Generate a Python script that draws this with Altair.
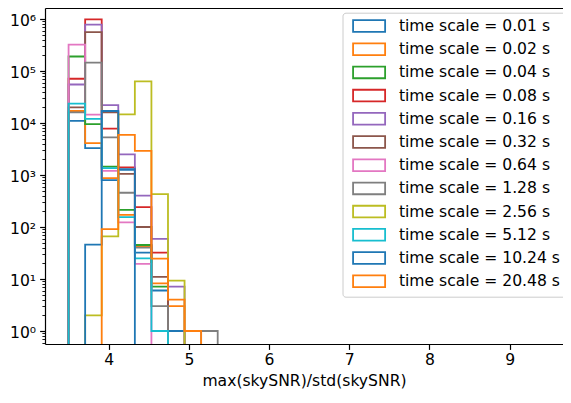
import altair as alt
import pandas as pd

series_labels = [
    "time scale = 0.01 s", "time scale = 0.02 s", "time scale = 0.04 s",
    "time scale = 0.08 s", "time scale = 0.16 s", "time scale = 0.32 s",
    "time scale = 0.64 s", "time scale = 1.28 s", "time scale = 2.56 s",
    "time scale = 5.12 s", "time scale = 10.24 s", "time scale = 20.48 s",
]
series_colors = [
    "#1f77b4", "#ff7f0e", "#2ca02c", "#d62728", "#9467bd", "#8c564b",
    "#e377c2", "#7f7f7f", "#bcbd22", "#17becf", "#1f77b4", "#ff7f0e",
]

bin_start = 3.5
bin_width = 0.2066

c_001 = [11000, 3300, 800, 1250, 32, 6, 1, 0, 0]
c_002 = [17000, 4100, 870, 171, 43, 8.2, 3, 0, 0]
c_004 = [190000, 9500, 1450, 214, 45, 7.1, 0, 0, 0]
c_008 = [71000, 980000, 7800, 1400, 240, 32, 0, 0, 0]
c_016 = [55000, 780000, 22000, 2500, 400, 59, 7.1, 0, 0]
c_032 = [20000, 560000, 16000, 1050, 100, 11, 0, 0, 0]
c_064 = [320000, 14500, 1200, 123, 19.5, 0, 0, 0, 0]
c_128 = [16000, 145000, 5300, 455, 40, 3, 0, 0, 1]
c_256 = [0, 2, 66, 14700, 63000, 427, 9.3, 0, 0]
c_512 = [23500, 12000, 1350, 155, 25, 1, 0, 0, 0]
c_1024 = [0, 46, 17000, 1300, 0, 0, 0, 0, 0]
c_2048 = [0, 0, 91, 5900, 2900, 24.6, 4, 1, 0]

all_counts = [c_001, c_002, c_004, c_008, c_016, c_032,
              c_064, c_128, c_256, c_512, c_1024, c_2048]

x_ticks = [4, 5, 6, 7, 8, 9]
y_major = [1, 10, 100, 1000, 10000, 100000, 1000000]

# build step outlines (matplotlib histtype='step')
floor = 0.01
rows = []
for si, (lab, vals) in enumerate(zip(series_labels, all_counts)):
    nz = [i for i, v in enumerate(vals) if v > 0]
    f, l = nz[0], nz[-1]
    pts = [(bin_start + f * bin_width, floor)]
    for k in range(f, l + 1):
        v = vals[k] if vals[k] > 0 else floor
        pts.append((bin_start + k * bin_width, v))
        pts.append((bin_start + (k + 1) * bin_width, v))
    pts.append((bin_start + (l + 1) * bin_width, floor))
    for oi, (x, y) in enumerate(pts):
        rows.append({"series": lab, "key": f"{si:02d}", "x": x, "y": y, "order": oi})
df = pd.DataFrame(rows)

y_minor = []
for e in range(-1, 6):
    for m in range(2, 10):
        v = m * 10 ** e
        if 0.57 < v < 1.6e6:
            y_minor.append(v)
y_values = sorted(y_major + y_minor)

is_major = "abs(log(datum.value)/LN10 - round(log(datum.value)/LN10)) < 1e-6"
sup = "['\u2070','\u00b9','\u00b2','\u00b3','\u2074','\u2075','\u2076']"
label_expr = f"{is_major} ? '10' + {sup}[round(log(datum.value)/LN10)] : ''"

xscale = alt.Scale(domain=[3.206, 9.665], nice=False, zero=False)
yscale = alt.Scale(type="log", domain=[0.562, 1.627e6], nice=False)

y_enc = alt.Y(
    "y:Q", scale=yscale,
    axis=alt.Axis(
        values=y_values, labelExpr=label_expr, title=None, labelOverlap=False,
        tickSize={"condition": {"test": is_major, "value": 5.4}, "value": 3.1},
        tickWidth={"condition": {"test": is_major, "value": 1.2}, "value": 0.9},
        labelPadding=4, labelOffset=2, labelBaseline="middle",
    ),
)

lines = alt.Chart(df).mark_line(clip=True, strokeWidth=1.8).encode(
    x=alt.X(
        "x:Q", scale=xscale,
        axis=alt.Axis(values=x_ticks, title="max(skySNR)/std(skySNR)", tickSize=5.4,
                      labelPadding=3, titleY=41, titleBaseline="alphabetic"),
    ),
    y=y_enc,
    color=alt.Color(
        "series:N",
        scale=alt.Scale(domain=series_labels, range=series_colors),
        legend=alt.Legend(
            title=None, orient="none", legendX=297.5, legendY=4.7,
            symbolType="M-2.67,-0.975H2.67V0.975H-2.67Z", symbolSize=144,
            symbolStrokeWidth=1.8, symbolFillColor="transparent",
            symbolOffset=13.3, labelOffset=22, rowPadding=3.2, padding=5.5,
            fillColor="rgba(255,255,255,0.8)", strokeColor="#cccccc",
            cornerRadius=3, labelLimit=300,
        ),
    ),
    detail="key:N",
    order="order:Q",
)

top = alt.Chart(df).mark_line(opacity=0).encode(
    x=alt.X("x:Q", scale=xscale,
            axis=alt.Axis(orient="top", labels=False, ticks=False, title=None)),
    y=y_enc,
)

chart = (
    alt.layer(lines, top)
    .resolve_axis(x="independent")
    .properties(width=518, height=336,
                padding={"left": 37, "top": 0, "right": 0, "bottom": 45},
                autosize="none")
    .configure_view(stroke=None)
    .configure_axis(
        labelFont="DejaVu Sans", titleFont="DejaVu Sans",
        labelFontSize=15.6, titleFontSize=15.6, titleFontWeight="normal",
        labelColor="black", titleColor="black",
        domainColor="black", tickColor="black", domainWidth=1.2, tickWidth=1.2,
        grid=False,
    )
    .configure_legend(labelFont="DejaVu Sans", labelFontSize=15.6, labelColor="black")
)

chart.save("out.html", embed_options={"renderer": "svg", "actions": False})
